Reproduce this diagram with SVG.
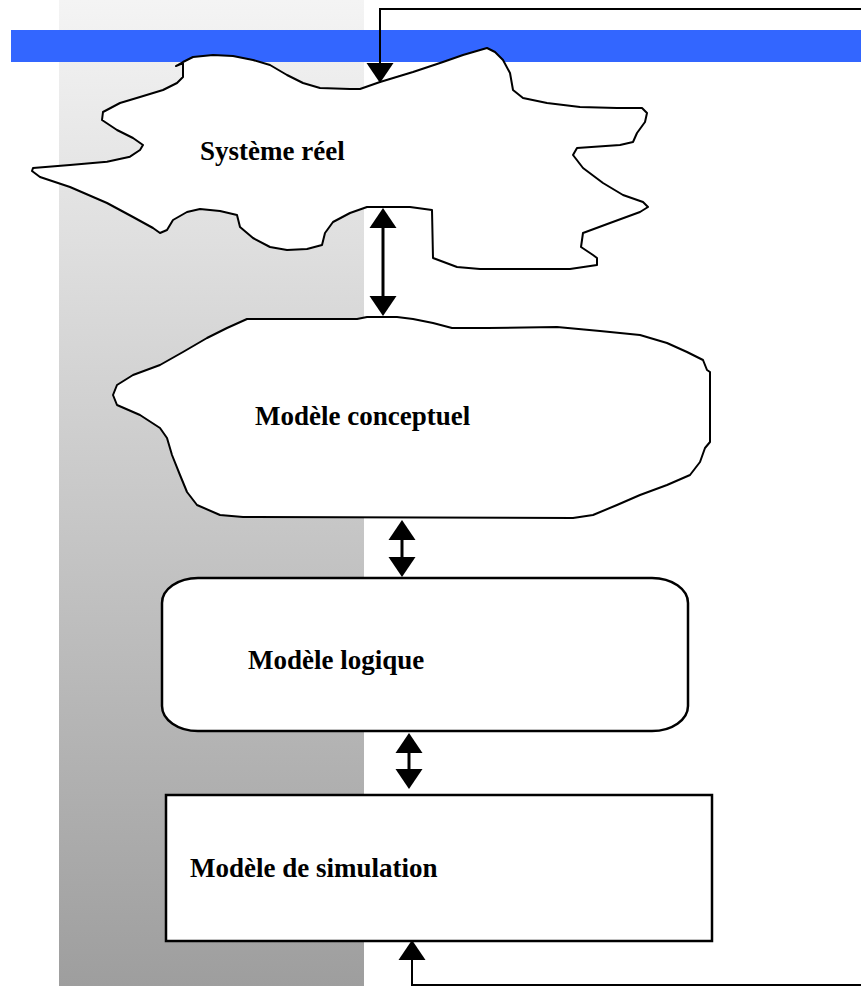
<svg xmlns="http://www.w3.org/2000/svg" width="861" height="986" viewBox="0 0 861 986">
  <style>
    .shape { fill: #ffffff; stroke: #000000; stroke-width: 2; stroke-linejoin: round; }
    .box { fill: #ffffff; stroke: #000000; stroke-width: 2.5; }
    .lbl { font-family: "Liberation Serif", "Times New Roman", serif; font-weight: bold; font-size: 27px; fill: #000000; }
    .conn { fill: none; stroke: #000000; stroke-width: 3; }
    .thin { fill: none; stroke: #000000; stroke-width: 2; }
  </style>
  <defs>
    <linearGradient id="panel" x1="0" y1="0" x2="0" y2="986" gradientUnits="userSpaceOnUse">
      <stop offset="0" stop-color="#f4f4f4"/>
      <stop offset="1" stop-color="#9e9e9e"/>
    </linearGradient>
    <marker id="head" viewBox="0 -14 20 28" refX="0" refY="0" markerWidth="20" markerHeight="28" markerUnits="userSpaceOnUse" orient="auto-start-reverse">
      <path d="M0,-13.5 L20,0 L0,13.5 Z" fill="#000000"/>
    </marker>
  </defs>

  <!-- background -->
  <rect x="59" y="0" width="305" height="986" fill="url(#panel)"/>
  <rect x="11" y="30" width="850" height="32" fill="#3366ff"/>

  <g id="systeme-reel">
    <polygon class="shape" points="33,168 70,165 107,161.7 130,156.7 140,150 143,145 133,138 117,130 102,120 103,112 120,103 140,97 163,90 177,83 183,77 183,63 176,66 183,62 193,57 213,55 233,56 253,60 270,65 287,75 303,83 320,88 350,89 360,89 380,82 413,72 443,62 463,55 487,48 495,52 503,60 510,73 513,90 523,98 547,103 580,107 617,108 642,108 647,113 645,122 637,133 633,142 620,145 577,148 573,155 583,168 603,183 623,195 643,202 648,207 640,212 610,223 583,233 581,247 593,255 597,258 597,265 570,269 480,269 457,267 433,258 432,210 410,207 367,207 350,213 333,222 325,233 322,245 307,249 287,250 270,247 253,238 240,227 237,215 220,211 200,209 187,212 173,220 167,230 160,233 153,228 133,217 107,203 70,187 40,177 32,171"/>
    <text class="lbl" x="200" y="160">Système réel</text>
  </g>

  <g id="modele-conceptuel">
    <polygon class="shape" points="247,319 357,319 367,317 397,317 413,319 433,323 452,328 488,328 557,327 600,331 640,335 667,343 687,352 703,360 707,370 710,372 710,442 705,448 700,462 690,475 667,485 640,495 617,505 593,515 573,518 243,517 220,515 197,505 187,492 180,475 172,455 167,438 160,428 140,415 117,405 113,395 117,385 133,375 160,365 183,352 207,338 227,328"/>
    <text class="lbl" x="255" y="425">Modèle conceptuel</text>
  </g>

  <g id="modele-logique">
    <rect class="box" x="162" y="578" width="526" height="153" rx="36" ry="25"/>
    <text class="lbl" x="248" y="669">Modèle logique</text>
  </g>

  <g id="modele-simulation">
    <rect class="box" x="166" y="795" width="546" height="146"/>
    <text class="lbl" x="190" y="877">Modèle de simulation</text>
  </g>

  <g id="connectors">
    <path class="thin" d="M861,9 L380,9 L380,63" marker-end="url(#head)"/>
    <line class="conn" x1="383" y1="228" x2="383" y2="296" marker-start="url(#head)" marker-end="url(#head)"/>
    <line class="conn" x1="402" y1="540" x2="402" y2="557" marker-start="url(#head)" marker-end="url(#head)"/>
    <line class="conn" x1="409" y1="753" x2="409" y2="769" marker-start="url(#head)" marker-end="url(#head)"/>
    <path class="thin" d="M861,985 L412,985 L412,960" marker-end="url(#head)"/>
  </g>
</svg>
